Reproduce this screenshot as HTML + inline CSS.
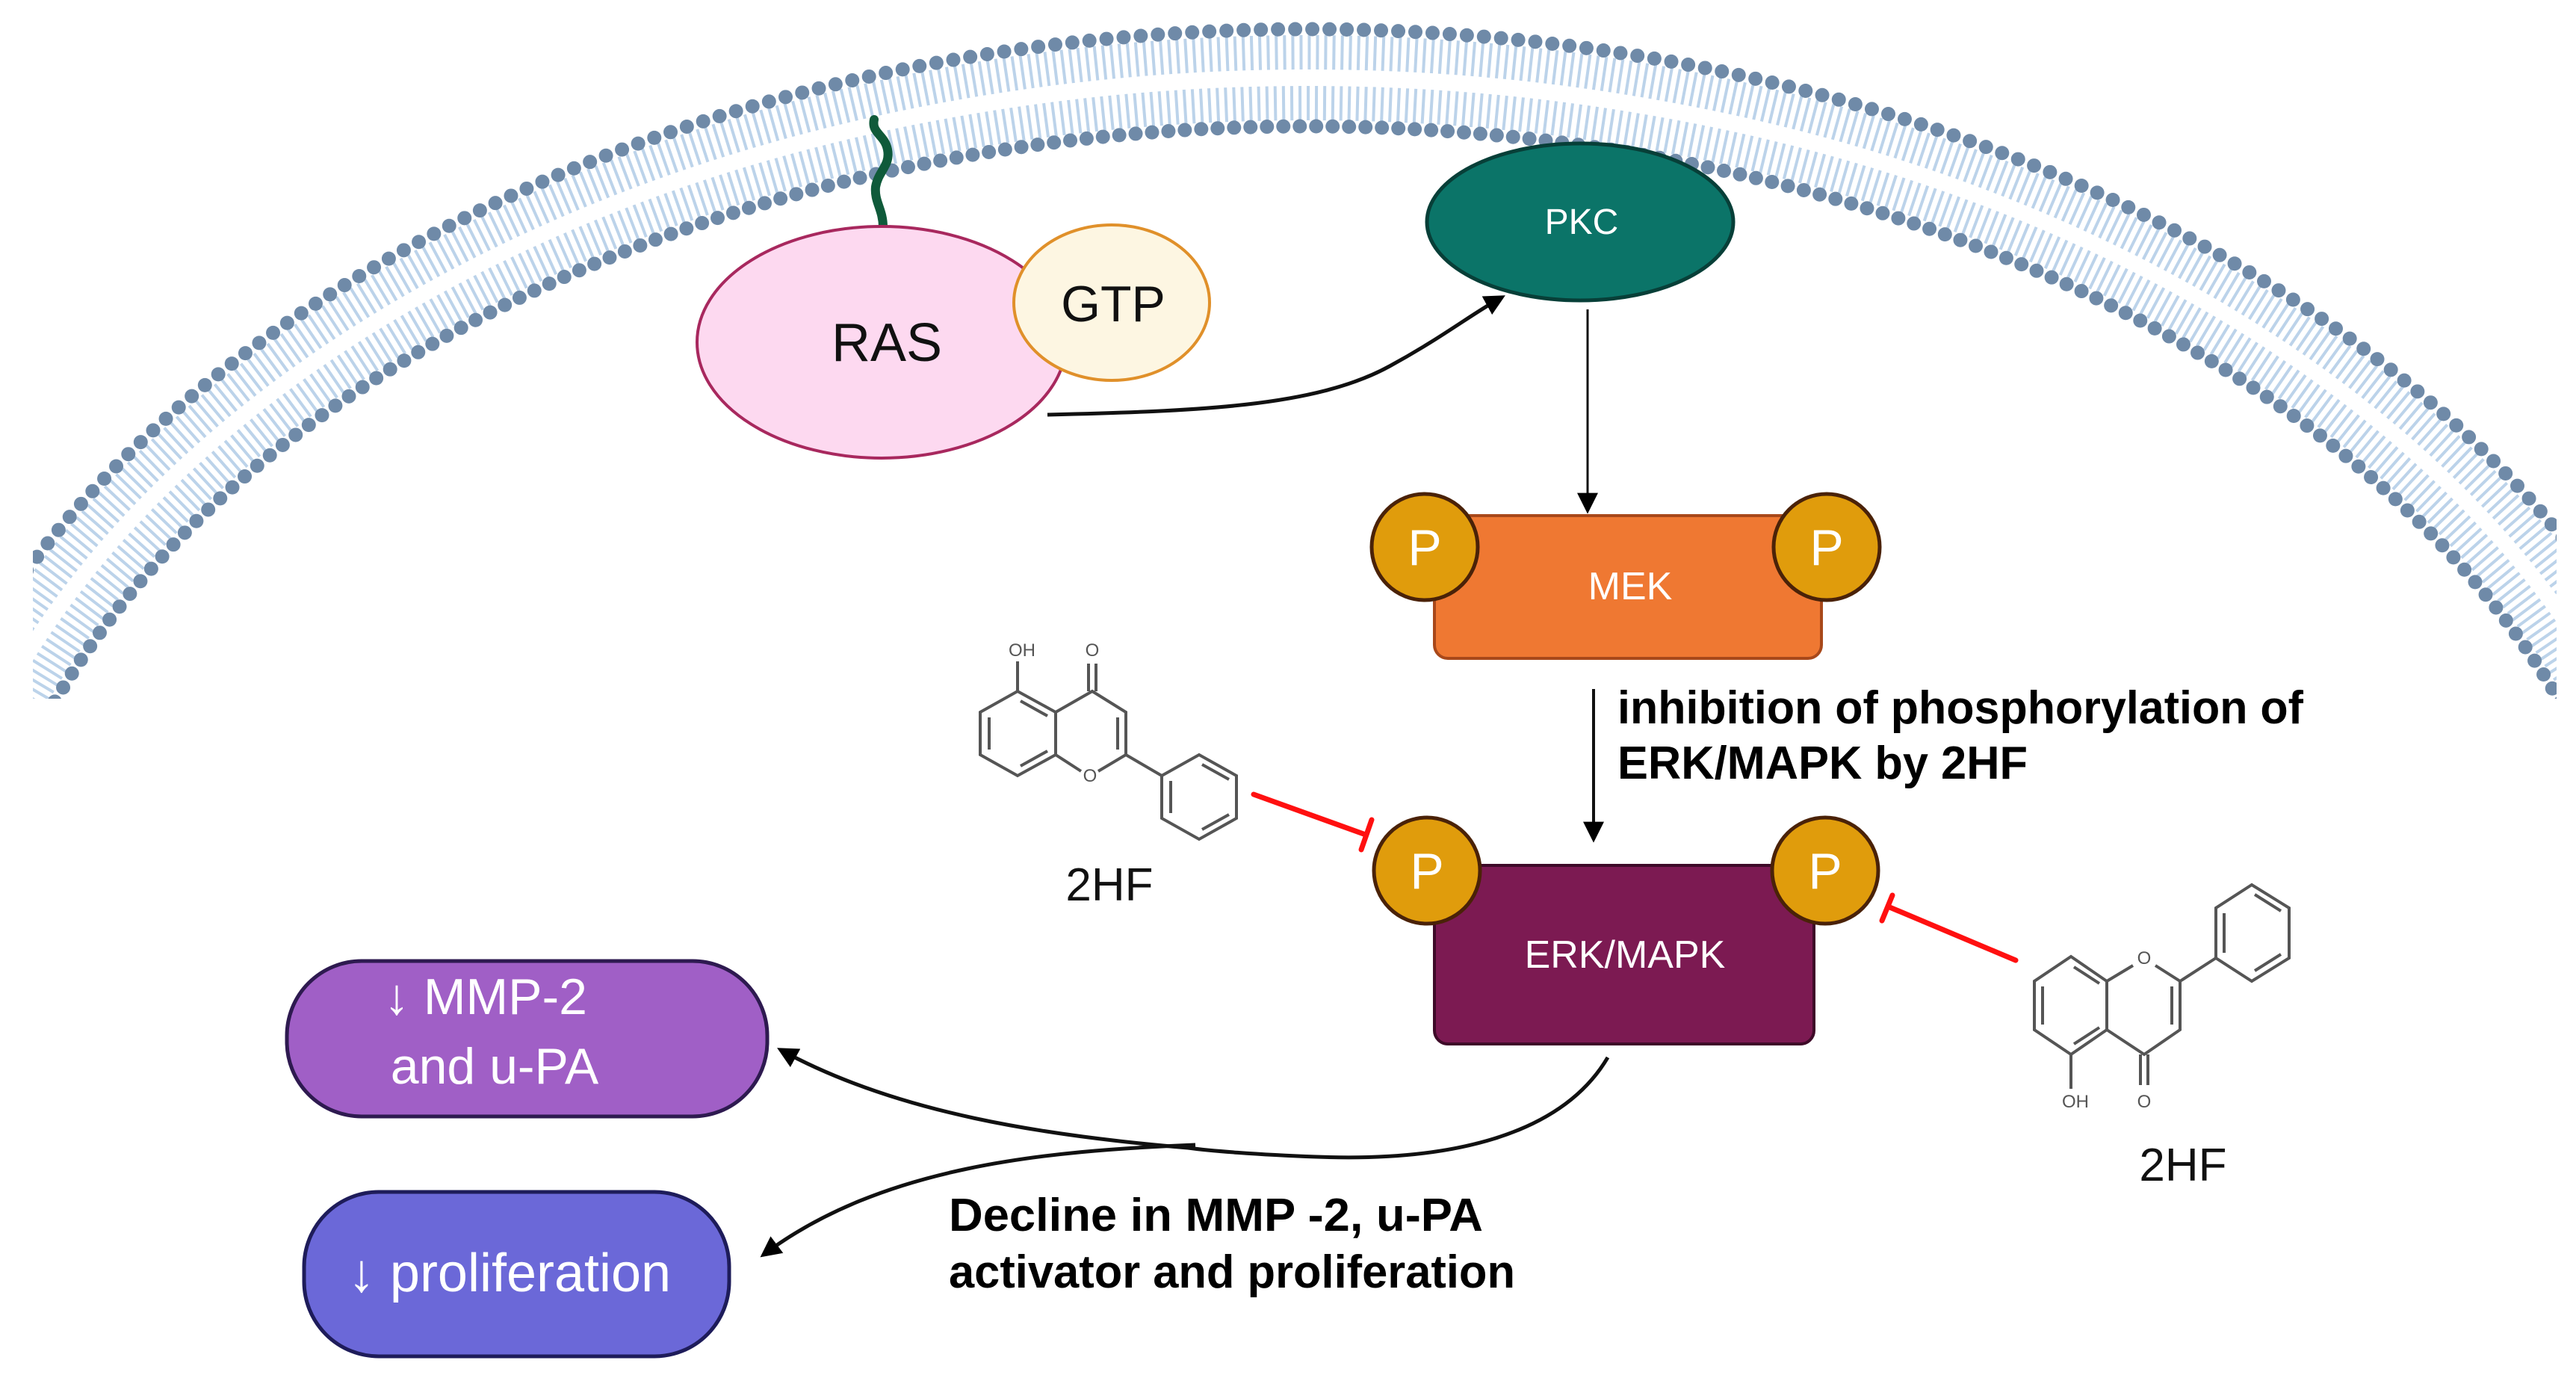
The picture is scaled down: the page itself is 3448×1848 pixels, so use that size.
<!DOCTYPE html>
<html><head><meta charset="utf-8"><style>html,body{margin:0;padding:0;background:#fff;width:3448px;height:1848px;overflow:hidden;position:relative}svg{display:block;position:absolute;left:0;top:0}</style></head>
<body>
<svg width="3448" height="1848" viewBox="0 0 3448 1848" xmlns="http://www.w3.org/2000/svg" font-family="Liberation Sans, sans-serif">
<defs>
<clipPath id="mc"><rect x="44" y="0" width="3378" height="935"/></clipPath>
<marker id="ah2" viewBox="0 0 10 10" refX="8" refY="5" markerWidth="28" markerHeight="28" orient="auto" markerUnits="userSpaceOnUse"><path d="M0,0L10,5L0,10z" fill="#000"/></marker>
</defs>
<g clip-path="url(#mc)" fill="none">
<ellipse cx="1750" cy="1379" rx="1899" ry="1309" stroke="#bcd3ea" stroke-width="46" stroke-dasharray="4 7"/>
<ellipse cx="1750" cy="1379" rx="1831" ry="1241" stroke="#bcd3ea" stroke-width="46" stroke-dasharray="4 7"/>
<ellipse cx="1750" cy="1379" rx="1930" ry="1340" stroke="#6f8aa8" stroke-width="19" stroke-linecap="round" stroke-dasharray="0 23"/>
<ellipse cx="1750" cy="1379" rx="1800" ry="1210" stroke="#6f8aa8" stroke-width="19" stroke-linecap="round" stroke-dasharray="0 22"/>
</g>
<path d="M1182,304 C1182,280 1170,270 1172,250 C1176,228 1192,222 1188,200 C1184,180 1166,178 1170,160" fill="none" stroke="#0f5a3a" stroke-width="12" stroke-linecap="round"/>
<ellipse cx="1180" cy="458" rx="247" ry="155" fill="#fdd9f0" stroke="#a8285e" stroke-width="4"/>
<ellipse cx="1488" cy="405" rx="131" ry="104" fill="#fdf6e2" stroke="#e0902a" stroke-width="4"/>
<text x="1187" y="483" font-size="72" text-anchor="middle" fill="#111">RAS</text>
<text x="1490" y="430" font-size="68" text-anchor="middle" fill="#111">GTP</text>
<ellipse cx="2115" cy="297" rx="205" ry="105" fill="#0b7468" stroke="#073f38" stroke-width="5"/>
<text x="2117" y="313" font-size="48" text-anchor="middle" fill="#fff">PKC</text>
<path d="M1402,555 C1600,550 1760,545 1860,490 C1930,452 1970,420 2010,398" fill="none" stroke="#111" stroke-width="5" marker-end="url(#ah2)"/>
<line x1="2125" y1="414" x2="2125" y2="682" stroke="#111" stroke-width="3" marker-end="url(#ah2)"/>
<line x1="2133" y1="922" x2="2133" y2="1122" stroke="#111" stroke-width="4" marker-end="url(#ah2)"/>
<rect x="1920" y="690" width="518" height="191" rx="18" fill="#ef7832" stroke="#a8481a" stroke-width="4"/>
<text x="2182" y="802" font-size="52" text-anchor="middle" fill="#fff">MEK</text>
<rect x="1920" y="1158" width="508" height="239" rx="18" fill="#7c1a52" stroke="#3e0a28" stroke-width="4"/>
<text x="2175" y="1295" font-size="52" text-anchor="middle" fill="#fff">ERK/MAPK</text>
<g fill="#e09c0c" stroke="#4a2208" stroke-width="5">
<circle cx="1907" cy="732" r="71"/><circle cx="2445" cy="732" r="71"/>
<circle cx="1910" cy="1165" r="71"/><circle cx="2443" cy="1165" r="71"/>
</g>
<g font-size="68" fill="#fff" text-anchor="middle">
<text x="1907" y="756">P</text><text x="2445" y="756">P</text>
<text x="1910" y="1189">P</text><text x="2443" y="1189">P</text>
</g>
<g font-weight="bold" font-size="62" fill="#000">
<text x="2165" y="968" textLength="918" lengthAdjust="spacingAndGlyphs">inhibition of phosphorylation of</text>
<text x="2165" y="1042" textLength="549" lengthAdjust="spacingAndGlyphs">ERK/MAPK by 2HF</text>
<text x="1270" y="1647" textLength="715" lengthAdjust="spacingAndGlyphs">Decline in MMP -2, u-PA</text>
<text x="1270" y="1723" textLength="758" lengthAdjust="spacingAndGlyphs">activator and proliferation</text>
</g>
<g stroke="#ff1010" stroke-width="7" stroke-linecap="round">
<line x1="1678" y1="1063" x2="1828" y2="1117"/><line x1="1836" y1="1097" x2="1822" y2="1137"/>
<line x1="2698" y1="1285" x2="2527" y2="1213"/><line x1="2533" y1="1198" x2="2519" y2="1232"/>
</g>
<g fill="none" stroke="#555" stroke-width="4">
<polygon points="1312,953 1362,925 1413,953 1413,1010 1362,1038 1312,1010"/>
<line x1="1324" y1="960" x2="1324" y2="1003"/><line x1="1366" y1="938" x2="1402" y2="958"/><line x1="1366" y1="1025" x2="1402" y2="1005"/>
<polyline points="1413,953 1462,925 1507,953 1507,1010 1470,1032"/><line x1="1413" y1="1010" x2="1447" y2="1032"/>
<line x1="1496" y1="960" x2="1496" y2="1003"/>
<line x1="1362" y1="925" x2="1362" y2="885"/><line x1="1457" y1="925" x2="1457" y2="888"/><line x1="1467" y1="925" x2="1467" y2="888"/>
<line x1="1507" y1="1010" x2="1555" y2="1038"/>
<polygon points="1555,1038 1605,1010 1655,1038 1655,1095 1605,1123 1555,1095"/>
<line x1="1567" y1="1045" x2="1567" y2="1088"/><line x1="1609" y1="1023" x2="1645" y2="1043"/><line x1="1609" y1="1110" x2="1645" y2="1090"/>
</g>
<g font-size="24" fill="#555" text-anchor="middle">
<text x="1368" y="878">OH</text><text x="1462" y="878">O</text><text x="1459" y="1046">O</text>
</g>
<text x="1485" y="1205" font-size="62" text-anchor="middle" fill="#111">2HF</text>
<g fill="none" stroke="#555" stroke-width="4">
<polygon points="2772,1280 2820,1313 2820,1378 2772,1411 2723,1378 2723,1313"/>
<line x1="2734" y1="1320" x2="2734" y2="1371"/><line x1="2776" y1="1294" x2="2810" y2="1316"/><line x1="2776" y1="1397" x2="2810" y2="1375"/>
<polyline points="2820,1378 2870,1411 2918,1378 2918,1313 2885,1292"/><line x1="2820" y1="1313" x2="2855" y2="1292"/>
<line x1="2907" y1="1320" x2="2907" y2="1371"/>
<line x1="2772" y1="1411" x2="2772" y2="1457"/><line x1="2865" y1="1411" x2="2865" y2="1452"/><line x1="2875" y1="1411" x2="2875" y2="1452"/>
<line x1="2918" y1="1313" x2="2966" y2="1282"/>
<polygon points="2966,1282 2966,1215 3014,1184 3064,1215 3064,1282 3014,1313"/>
<line x1="2977" y1="1222" x2="2977" y2="1275"/><line x1="3018" y1="1197" x2="3053" y2="1219"/><line x1="3018" y1="1299" x2="3053" y2="1277"/>
</g>
<g font-size="24" fill="#555" text-anchor="middle">
<text x="2778" y="1482">OH</text><text x="2870" y="1482">O</text><text x="2870" y="1290">O</text>
</g>
<text x="2922" y="1580" font-size="62" text-anchor="middle" fill="#111">2HF</text>
<rect x="384" y="1286" width="643" height="208" rx="100" fill="#a05fc6" stroke="#2e1a50" stroke-width="5"/>
<text x="650" y="1357" font-size="68" text-anchor="middle" fill="#fff">↓ MMP-2</text>
<text x="662" y="1450" font-size="68" text-anchor="middle" fill="#fff">and u-PA</text>
<rect x="407" y="1595" width="569" height="220" rx="100" fill="#6b68d8" stroke="#1e1c5a" stroke-width="5"/>
<text x="682" y="1728" font-size="72" text-anchor="middle" fill="#fff">↓ proliferation</text>
<path d="M2152,1415 C2090,1520 1940,1555 1762,1548 C1680,1545 1620,1540 1590,1536 C1400,1520 1200,1490 1045,1405" fill="none" stroke="#111" stroke-width="5" marker-end="url(#ah2)"/>
<path d="M1600,1532 C1400,1540 1180,1560 1022,1679" fill="none" stroke="#111" stroke-width="5" marker-end="url(#ah2)"/>
</svg>
</body></html>
